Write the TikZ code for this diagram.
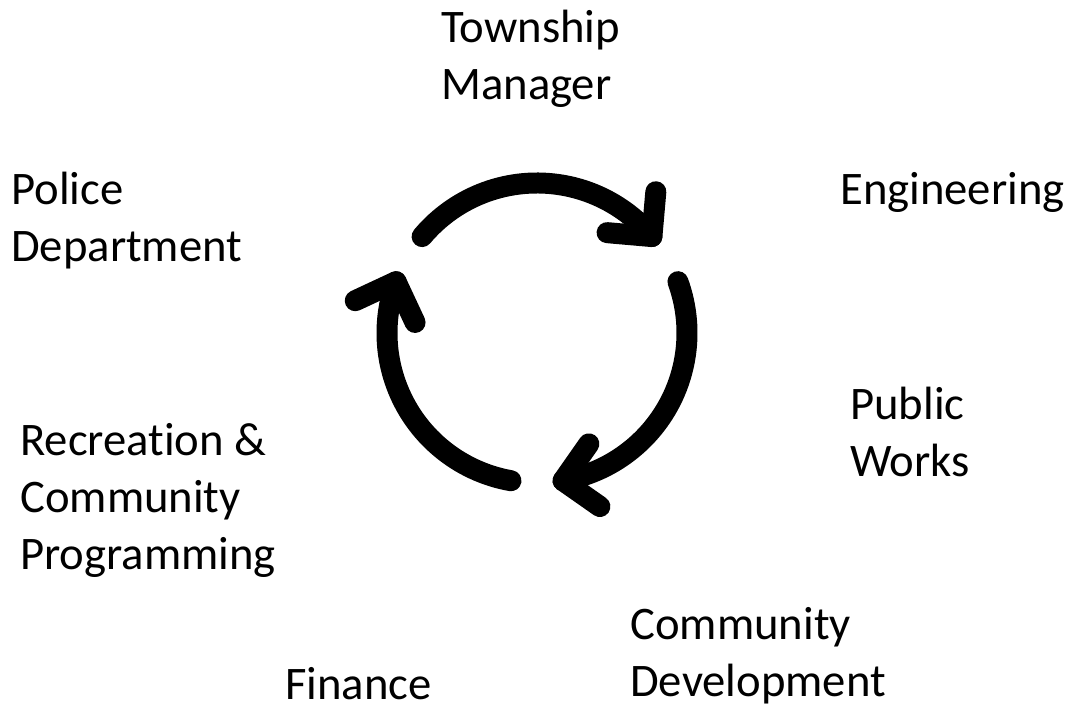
\documentclass[tikz,border=0pt]{standalone}
\usepackage{fontspec}
\setmainfont{Carlito}[Ligatures=NoCommon]
\usetikzlibrary{calc}
\begin{document}
\begin{tikzpicture}[x=0.75pt,y=0.75pt,
  lbl/.style={anchor=base west,inner sep=0pt,align=left,
    font=\fontsize{35pt}{42.75pt}\selectfont},
  cyc/.style={line width=15.75pt,line cap=round,line join=round,draw=black}]
\useasboundingbox (0,0) rectangle (1074,709);
% labels (anchored at the baseline of the last line)
\node[lbl] (tm) at (441,609) {Township\\Manager};
\node[lbl] (pd) at (11,447) {Police\\Department};
\node[lbl] (en) at (840,504) {Engineering};
\node[lbl] (pw) at (850,232) {Public\\Works};
\node[lbl] (rc) at (20,139) {Recreation \&\\Community\\Programming};
\node[lbl] (cd) at (630,12) {Community\\Development};
\node[lbl] (fi) at (285,9) {Finance};
% cycle symbol
\coordinate (c) at (537,376);
\draw[cyc] ($(c)+(140:112.5pt)$) arc[start angle=140,end angle=40,radius=112.5pt] coordinate (e1);
\draw[cyc] ($(e1)+(175:33.75pt)$) -- (e1) -- ++(85:33.75pt);
\draw[cyc] ($(c)+(20:112.5pt)$) arc[start angle=20,end angle=-80,radius=112.5pt] coordinate (e2);
\draw[cyc] ($(e2)+(55:33.75pt)$) -- (e2) -- ++(-35:33.75pt);
\draw[cyc] ($(c)+(-100:112.5pt)$) arc[start angle=-100,end angle=-200,radius=112.5pt] coordinate (e3);
\draw[cyc] ($(e3)+(-65:33.75pt)$) -- (e3) -- ++(-155:33.75pt);
\end{tikzpicture}
\end{document}
